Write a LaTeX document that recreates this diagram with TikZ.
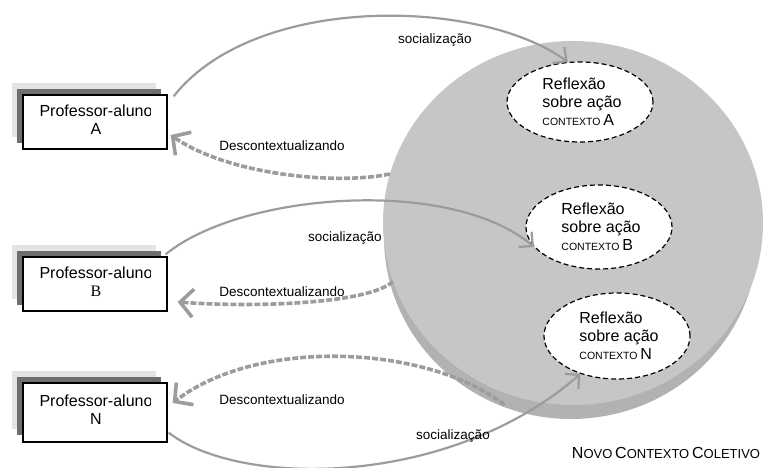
\documentclass[tikz,border=0pt]{standalone}
\usepackage{fontspec}
\setmainfont{Liberation Sans}
\newfontfamily\serifB{Liberation Serif}
\usetikzlibrary{arrows.meta,shapes.geometric}
\definecolor{conn}{HTML}{9C9C9C}
\definecolor{diskc}{HTML}{C6C6C6}
\definecolor{rimc}{HTML}{B2B2B2}
\definecolor{shdark}{HTML}{6E6E6E}
\definecolor{shlight}{HTML}{E4E4E4}
\begin{document}
\begin{tikzpicture}[x=1pt,y=1pt,
  pbox/.style={draw=black, line width=1.3pt, fill=white, minimum width=144pt, minimum height=54pt, inner sep=0pt},
  shlightbox/.style={fill=shlight, minimum width=144pt, minimum height=54pt, inner sep=0pt},
  shdarkbox/.style={fill=shdark, minimum width=144pt, minimum height=54pt, inner sep=0pt},
  boxtext/.style={font=\fontsize{16}{18}\selectfont, align=center, inner sep=0pt},
  ctx/.style={ellipse, draw=black, dash pattern=on 5pt off 3pt, line width=1.2pt, fill=white, minimum width=146pt, minimum height=82pt, inner sep=0pt},
  ctxtext/.style={font=\fontsize{16}{18}\selectfont, align=left, inner sep=0pt},
  soc/.style={draw=conn, line width=2.2pt, -{Straight Barb[length=10pt,width=20pt]}},
  desc/.style={draw=conn, line width=3.6pt, dash pattern=on 6pt off 2pt, -{Straight Barb[length=13pt,width=28pt]}},
  lbl/.style={font=\fontsize{13.5}{16}\selectfont, inner sep=0pt}
]
\useasboundingbox (0,0) rectangle (766,468);

% disk
\fill[rimc] (571,231) ellipse [x radius=187, y radius=182];
\node[ellipse, fill=diskc, minimum width=380pt, minimum height=364pt, inner sep=0pt] (disk) at (573,245) {};

% boxes
\node[shlightbox] at (84,358) {};
\node[shdarkbox] at (89,352) {};
\node[pbox] (a) at (95,346) {};
\begin{scope}
\clip (20,300) rectangle (150,380);
\node[boxtext] (ta) at (96,348) {Professor-aluno\\A};
\end{scope}

\node[shlightbox] at (84,196) {};
\node[shdarkbox] at (89,190) {};
\node[pbox] (b) at (95,184) {};
\begin{scope}
\clip (20,150) rectangle (150,220);
\node[boxtext] (tb) at (96,186) {Professor-aluno\\{\serifB B}};
\end{scope}

\node[shlightbox, minimum height=58pt] at (84,68) {};
\node[shdarkbox, minimum height=58pt] at (89,62) {};
\node[pbox, minimum height=59pt] (n) at (95,55.5) {};
\begin{scope}
\clip (20,20) rectangle (150,90);
\node[boxtext] (tn) at (96,58) {Professor-aluno\\N};
\end{scope}

% context ellipses
\node[ctx, minimum height=80pt] (ea) at (580,366) {};
\node[ctxtext] at (582,366) {Reflexão\\sobre ação\\{\fontsize{10.5}{18}\selectfont CONTEXTO }A};
\node[ctx, minimum height=84pt] (eb) at (599,241) {};
\node[ctxtext] at (601,241) {Reflexão\\sobre ação\\{\fontsize{10.5}{18}\selectfont CONTEXTO }B};
\node[ctx, minimum height=86pt] (en) at (617,132) {};
\node[ctxtext] at (619,132) {Reflexão\\sobre ação\\{\fontsize{10.5}{18}\selectfont CONTEXTO }N};

% connectors
\draw[soc] ([shift={(6,-2)}]a.north east) .. controls (255,475) and (480,470) .. (ea.107);
\draw[desc] (disk.165) .. controls (340,283) and (230,292) .. ([shift={(3,-13)}]a.east);
\draw[soc] ([shift={(-2,2)}]b.north east) .. controls (240,275) and (450,292) .. (eb.197);
\draw[desc] (disk.198) .. controls (370,165) and (260,160) .. ([shift={(10,-18)}]b.east);
\draw[desc] ([yshift=-12pt]disk.248) .. controls (430,122) and (260,132) .. ([shift={(5,9.5)}]n.east);
\draw[soc] ([shift={(1,10)}]n.south east) .. controls (240,-20) and (450,-20) .. (en.226);

% labels
\node[lbl] (l1) at (435,428) {socialização};
\node[lbl] (l2) at (282,322) {Descontextualizando};
\node[lbl] (l3) at (345,230) {socialização};
\node[lbl] (l4) at (282,176) {Descontextualizando};
\node[lbl] (l5) at (282,68) {Descontextualizando};
\node[lbl] (l6) at (453,32) {socialização};
\node[inner sep=0pt] (title) at (666,15) {{\fontsize{16}{18}\selectfont N}{\fontsize{13}{18}\selectfont OVO} {\fontsize{16}{18}\selectfont C}{\fontsize{13}{18}\selectfont ONTEXTO} {\fontsize{16}{18}\selectfont C}{\fontsize{13}{18}\selectfont OLETIVO}};
\end{tikzpicture}
\end{document}
